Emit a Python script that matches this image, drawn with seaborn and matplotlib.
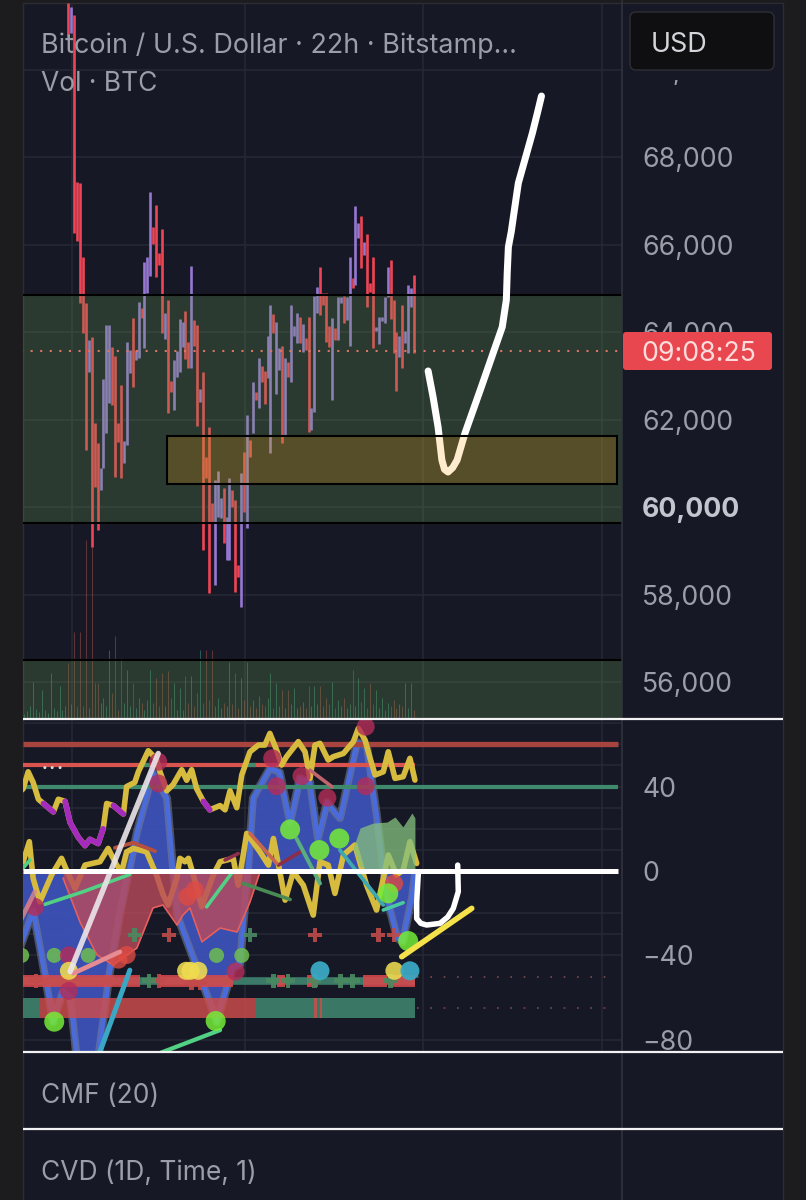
import numpy as np
import matplotlib
matplotlib.use("Agg")
import matplotlib.pyplot as plt
from matplotlib.patches import Rectangle, FancyBboxPatch
import seaborn as sns

# ---- price candles, one per 22h session ----
candle_high = [71520,71430,71246,67429,67406,65715,64663,63818,63886,61920,61463,60892,62926,64160,64160,63658,63452,61920,62789,61509,
               63772,63589,64320,63589,64686,64549,65600,65715,67200,66400,66903,65806,66355,64435,64732,62880,63360,63566,64298,64229,
               64480,63772,65509,64275,64160,62698,63086,61143,61829,60092,60618,60823,60206,60435,59772,60663,60389,60160,58675,60778,
               61258,62103,61532,62858,62629,63406,63223,63109,63909,64617,64412,64229,63635,63680,63406,63315,64617,64138,64435,64343,
               64183,63863,64343,62263,64823,65029,65486,64892,64892,64138,64320,64092,64800,64800,64823,64800,65715,65235,66880,66492,
               66652,66058,66240,65120,65715,64115,64343,64343,64800,65486,65646,64732,64000,63909,64617,64023,65075,65006,65303]
candle_low = [70740,70835,66263,66080,64663,63977,61303,63086,59086,60458,59475,60389,60892,61692,62378,62332,60686,61486,60663,61006,
              61418,63063,62743,63360,63406,64320,63635,64892,65280,66011,65258,65532,63977,63840,62149,62629,62218,62972,63086,63658,
              63383,63178,63178,63680,61852,62400,59018,60663,58035,59658,58218,59772,59749,59178,58789,58789,60000,58058,58400,57715,
              59886,59520,61143,61692,62446,62263,62858,62355,62949,61235,63977,62583,63132,61463,61646,62972,62858,63909,63749,63749,
              63543,63589,61715,61760,62172,64435,64389,64617,63772,63658,62446,63818,63818,64663,64206,64275,63680,65006,65075,66149,
              65463,65760,64572,64915,63635,64023,63726,64252,64206,64800,64298,63520,62652,63429,63178,63749,63520,64572,63520]
rising_bars = [1,7,11,12,13,14,19,20,21,23,24,26,27,28,33,36,37,38,39,42,45,50,51,52,54,55,59,61,63,65,68,69,71,72,74,76,77,78,80,
               83,84,85,90,92,93,95,96,98,99,101,105,106,107,108,109,113,115,116,117]

volume_before = [4,7,12,36,9,6,28,8,5,45,10,7,32,8,12]
volume = [55,14,86,12,86,12,178,10,171,35,35,15,20,12,68,25,82,8,60,15,48,12,35,10,20,15,8,18,48,15,
          40,12,45,12,47,20,35,8,30,8,42,15,42,12,25,68,15,68,18,68,12,20,10,15,12,56,14,45,10,40,
          18,56,12,18,10,22,14,12,20,45,10,35,12,28,10,28,14,30,10,12,16,10,32,12,32,14,32,12,20,14,
          36,10,18,12,20,10,14,48,12,40,16,30,10,35,14,28,10,20,8,15,12,18,10,14,12,35,10,35,8]

price_ticks = [56000,58000,60000,62000,64000,66000,68000,70000]
price_labels = ["56,000","58,000","60,000","62,000","64,000","66,000","68,000","70,000"]
osc_ticks = [40,0,-40,-80]
osc_labels = ["40","0","\u221240","\u221280"]
osc_grid = [70,60,50,40,30,20,10,-20,-30,-40,-80]
session_marks = [1.3,60.3,121,182]

last_price = 63566
support_zone = (59630,64850)
volume_zone_top = 56500
demand_box = (33.7,187.3,60526,61623)

# projected path sketched over the price pane
path_x = [122.8,124.5,126.2,127.5,128.4,129.6,131.2,132.7,135.4,140.6,145,148.1,149.5,149.8,150.2,151.2,151.9,153.6,156,158.4,160.1,161.5]
path_y = [63110,62514,61829,61074,60860,60800,60900,61074,61691,62674,63520,64114,64731,65349,65943,66300,66629,67406,67977,68549,69006,69394]

# ---- oscillator pane ----
upper_x = [-16.5,-15.4,-13.7,-12,-10.2,-8.5,-5.1,-3.4,-1.1,0.6,3.4,5.7,7.4,10.2,11.9,13.1,15.4,18.8,19.9,22.7,23.9,27.3,30.1,31.3,33.6,35.8,
           38.7,40.4,42.1,43.8,46.1,48.3,51.8,53.5,55.2,57.5,59.2,62,64.9,67.1,68.8,71.1,72.8,74.5,78.5,80.8,82.5,84.2,85.9,88.7,90.5,93.9,
           97.3,99,101.3,103,104.7,107.5,109.2,111.5,114.3,116.6,118.3]
upper_y = [37.6,39,47,42,34,32,28,34,33,23,16,12,15,13,20,32,31,27,40,42,47,57,53,47,38,41,48,43,48,39,33,29,31,29,38,30,45.5,56.5,59.7,59.7,
           65.2,57.3,50.2,54.2,61.3,56.5,43.9,59.7,60.5,52.6,54.2,55.7,61.3,67.6,62,53.4,45.5,47,56.5,43.9,44.7,53.4,43.1]
weak_spans = [(-9.1,-5.1),(-1.1,11.9),(14.8,18.8),(46.1,48.3)]

lower_x = [-16.5,-15.4,-13.3,-12,-9.7,-5.7,-2.3,-0.6,2.3,5.7,10.8,13.6,16.5,18.2,19.9,22.2,26.7,30.1,32.4,34.1,37,38.1,39.8,41,42.7,45.5,49.5,51.8,
           56.3,58,60.9,65.4,68.3,70,72.2,74,76.8,80.2,83.6,85.9,88.7,91,93.9,97.8,101.8,105.2,109.2,112,114.3,116.6,118.9]
lower_y = [3.6,4.4,13.9,-3.5,-14.6,-1.9,6,0.4,-8.3,2.8,4.4,10.7,2.8,-0.4,9.1,10.7,9.1,-1.9,-11.4,-16.1,-3.5,6,4.4,6,-1.9,-16.9,-1.9,4.4,
           6,-6.7,17.8,9.1,2.8,15.4,-0.4,-13.8,-0.4,-6.7,-20.9,4.4,2.8,-10.6,7.6,12.3,-6.7,-18.5,7.6,-1.9,0.4,13.9,3.6]

wave_x = [-16.5,-12,-9.7,-5.2,-1.8,0.6,3,10.1,14.2,17.6,23.4,28.9,33.7,37.1,50.7,56.2,58.6,61,63,68.8,72.2,75.7,79,82.5,85.2,88.3,92.7,98.5,
          101.9,105.3,108.7,112.2,114.2,117.3,118.3]
wave_y = [-36.5,-19.4,-36.5,-71.6,-57.3,-60.2,-90,-90,-47.9,-20.9,18.5,46.9,34.6,-20.9,-71.6,-46,-44.5,-5.2,34.6,48.8,46.9,23.2,44,42.2,15.6,
          32.7,25.1,61.1,59.7,26.5,-12.8,-31.8,-33.6,-12.8,-1.9]

bear_x = [-1.8,4,9.8,15.3,23.4,28.9,32.3,37.1,39.1,41.5,45.6,51.8,57.6,62,65.4]
bear_y = [-3.3,-24.2,-39.8,-44.5,-36.5,-17.5,-16.1,-25.6,-20.9,-17.5,-33.6,-27,-28.9,-14.7,-0.5]

bull_x = [97.2,99.6,104,108.8,111.5,114.2,117.3,118.3]
bull_top = [10.9,20.4,22.7,23.2,25.6,20.9,27.5,25.1]
bull_base = [10.9,2,0,0,0,0,0,0]

lime_x = [-15.9,-4.8,6.8,50.6,59.2]
lime_y = [-40,-40,-40,-40,-40]
green_x = [-4.8,50.3,116,75.7,85.7,92.5,109.2]
green_y = [-71.4,-71.1,-33.2,19.7,9.9,15.4,-10.6]
crimson_x = [-11.4,0.2,30.7,30.7,69.6,79.6,71.1,88.4,101.5,101.5,57.1,0.2]
crimson_y = [-17,-56.8,41.5,51.8,53.4,45,40.2,34.7,40.2,68.4,-47.7,-40]
red_x = [111.2,17.1,19.9,40.7,43.2]
red_y = [-5.9,-42,-39.8,-12.2,-9]
amber_x = [0.2,40.2,41.7,44.4,111.3]
amber_y = [-47.3,-47.3,-47.3,-47.3,-47.3]
cyan_x = [85.9,116.6]
cyan_y = [-47.3,-47.3]
plus_red_x = [34.4,84.2,105.8,111.2,-11,31,42,45]
plus_red_y = [-30.4,-30.4,-30.4,-30.4,-52,-52,-53,-53]
plus_green_x = [22.7,62,27.5,70,75,84,93,97,110]
plus_green_y = [-30.4,-30.4,-52,-52,-52,-52,-52,-52,-52]

rsi_ob_line = 60
rsi_mid_line = 50
rsi_os_line = 40
mid_dash_spans = [(24.5,28),(60.5,64)]

band_a = -52
band_a_green = [(-16,118.3)]
band_a_red = [(-16.5,24.5),(31.3,56.3),(71.1,74),(81.4,85.3),(100.7,108.7),(109.8,118.3)]
band_b = -65
band_b_green = [(-15.4,-9.7),(64,118.3)]
band_b_red = [(-9.7,64),(84,84.9),(85.8,86.6)]
dotted_levels = [-50,-65]

white_x, white_y = [0.6,30.7], [-47.7,55.7]
pink_x, pink_y = [1.7,17.6], [-48.5,-38.3]
pink2_x, pink2_y = [-16.5,-11.4], [-24,-9.8]
sky_x, sky_y = [10.2,21], [-88,-47]
mint_x, mint_y = [-8,5.1,21], [-15.8,-9.8,-1.6]
mint2_x, mint2_y = [28,51.8], [-88,-75.4]
mint3_x, mint3_y = [47.2,55.7], [-17,-1.1]
mint4_x, mint4_y = [-16.5,-13.1], [-0.3,5.2]
rust_x, rust_y = [15.9,22.2,29.6], [11,13.4,9.4]
wine_x, wine_y = [53.5,58], [5.2,8.3]
wine2_x, wine2_y = [71.7,79.6], [2.8,9.4]
fern_x, fern_y = [59.7,75.7], [-5.9,-13.5]
coral_x, coral_y = [62,71.1], [17.8,3.6]
rose_x, rose_y = [82.5,90], [47.8,39.9]
sage_x, sage_y = [77.9,85.9], [15.4,-5.9]
teal_x, teal_y = [92.7,107.5], [9.9,-16.1]
mint5_x, mint5_y = [107.5,114.3], [-18.5,-15]
sun_x, sun_y = [113.8,137.7], [-40.6,-17.7]
cup_x = [119.5,118.9,118.9,120.3,122.3,126.9,129.5,131.4,133.1,132.9]
cup_y = [-0.4,-14.6,-22.5,-24.8,-25.6,-24.8,-21.8,-17.7,-9.8,2.8]
three_dots_x, three_dots_y = [-8,-5.5,-2.8], [49,49,49]

# ---- colours and page geometry ----
PAGE, PANE, GRID = "#1c1c1e", "#161925", "#262935"
LABEL = "#9b9da8"
W, H = 806, 1200
L_PX, R_PX = 23, 622

sns.set_theme(style="dark")
plt.rcParams["font.family"] = ["Inter", "DejaVu Sans"]


def frac_box(x0, y0, x1, y1):
    return [x0 / W, 1 - y1 / H, (x1 - x0) / W, (y1 - y0) / H]


def stroke(ax, xs, ys, color, width, alpha=1.0, z=6):
    sns.lineplot(x=xs, y=ys, ax=ax, color=color, lw=width * 0.72, alpha=alpha, sort=False,
                 estimator=None, errorbar=None, zorder=z, legend=False,
                 solid_capstyle="round", solid_joinstyle="round")


def dots(ax, xs, ys, color, diam, alpha=0.9, z=9, marker="o", lw=0):
    sns.scatterplot(x=xs, y=ys, ax=ax, color=color, s=(diam * 0.72) ** 2, alpha=alpha, zorder=z,
                    marker=marker, linewidth=lw, edgecolor=color if lw else "none", legend=False)


def plain(ax, ylim, ticks, labels):
    ax.set_xlim((L_PX - 68.3) / 2.93, (R_PX - 68.3) / 2.93)
    ax.set_ylim(*ylim)
    ax.set_facecolor("none")
    ax.grid(False)
    for s in ax.spines.values():
        s.set_visible(False)
    ax.set_xticks([])
    ax.yaxis.tick_right()
    ax.set_yticks(ticks)
    ax.set_yticklabels(labels)
    ax.tick_params(axis="y", length=0, pad=14.5, labelsize=19.2, labelcolor=LABEL)
    ax.set_xlabel("")
    ax.set_ylabel("")


fig = plt.figure(figsize=(W / 100, H / 100), dpi=100, facecolor=PAGE)

back = fig.add_axes([0, 0, 1, 1], zorder=-5)
back.set_xlim(0, W)
back.set_ylim(H, 0)
back.axis("off")
back.add_patch(Rectangle((L_PX, 3), 783 - L_PX, H, fc=PANE, ec="#2c2d33", lw=1))

# ---- price pane ----
ax = fig.add_axes(frac_box(L_PX, 3, R_PX, 718), zorder=1)
plain(ax, (55178, 71520), price_ticks, price_labels)
for t, lab in zip(price_ticks, ax.get_yticklabels()):
    if t == 60000:
        lab.set_fontweight("bold")
        lab.set_color("#c3c5cf")
ax.hlines(price_ticks, *ax.get_xlim(), color=GRID, lw=1.1, zorder=1)
ax.vlines(session_marks, 55178, 71520, color=GRID, lw=1.1, zorder=1)

idx = np.arange(len(candle_high))
up = np.isin(idx, rising_bars)
ax.vlines(idx[~up], np.array(candle_low)[~up], np.array(candle_high)[~up], color="#ef4455", lw=1.9, zorder=2)
ax.vlines(idx[up], np.array(candle_low)[up], np.array(candle_high)[up], color="#9678d2", lw=1.9, zorder=2)

VOL_SCALE = 22.857
vol_idx = np.arange(-len(volume_before), len(volume))
vol_all = np.array(volume_before + volume)
vol_up = np.isin(vol_idx, rising_bars) | (vol_idx < 0)
ax.vlines(vol_idx[vol_up], 55178, 55178 + vol_all[vol_up] * VOL_SCALE, color="#3f9a7c", lw=0.75, alpha=0.5, zorder=2)
ax.vlines(vol_idx[~vol_up], 55178, 55178 + vol_all[~vol_up] * VOL_SCALE, color="#c25a50", lw=0.75, alpha=0.42, zorder=2)

ax.axhspan(support_zone[0], support_zone[1], fc=(106 / 255, 157 / 255, 81 / 255, 0.25), ec="none", zorder=3)
ax.axhspan(55178, volume_zone_top, fc=(106 / 255, 157 / 255, 81 / 255, 0.25), ec="none", zorder=3)
ax.hlines([support_zone[1], support_zone[0], volume_zone_top], *ax.get_xlim(), color="black", lw=1.5, zorder=4)

ax.hlines(last_price, -16, 188, color="#dc7462", lw=1.5, linestyles=(0, (1, 3.6)), zorder=4)

stroke(ax, path_x, path_y, "white", 7, z=5)
ax.add_patch(Rectangle((demand_box[0], demand_box[2]), demand_box[1] - demand_box[0], demand_box[3] - demand_box[2],
                       fc=(1, 163 / 255, 13 / 255, 0.2), ec="black", lw=1.5, zorder=6))

# ---- oscillator pane ----
ox = fig.add_axes(frac_box(L_PX, 720, R_PX, 1051), zorder=2)
plain(ox, (-85.3, 71.56), osc_ticks, osc_labels)
x0, x1 = ox.get_xlim()
ox.hlines(osc_grid, x0, x1, color=GRID, lw=1.1, zorder=1)
ox.vlines(session_marks, -85.3, 71.56, color=GRID, lw=1.1, zorder=1)

ox.fill_between(wave_x, wave_y, 0, color="#3d53bb", alpha=0.92, lw=0, zorder=2)
stroke(ox, wave_x, wave_y, "#7a8196", 8, 0.55, z=2.2)
stroke(ox, wave_x, wave_y, "#4a6bdc", 4.5, 1.0, z=2.4)

for a, b in band_a_green:
    ox.hlines(band_a, a, b, color="#3b7a68", lw=5.5, zorder=3)
for a, b in band_a_red:
    ox.hlines(band_a, a, b, color="#d8484c", lw=8.6, alpha=0.88, zorder=3.1)
for a, b in band_b_red:
    ox.hlines(band_b, a, b, color="#cf4d4b", lw=14.4, alpha=0.82, zorder=3.2)
for a, b in band_b_green:
    ox.hlines(band_b, a, b, color="#3b7765", lw=14.4, zorder=3.1)
ox.hlines(dotted_levels, 119, 187, color="#7a4a4c", lw=1.2, linestyles=(0, (1, 7)), zorder=3)

ox.hlines(rsi_ob_line, x0, 187.5, color="#a8443f", lw=3.8, zorder=4)
ox.hlines(rsi_mid_line, x0, 118.3, color="#d9534f", lw=3.0, zorder=4)
ox.hlines(rsi_os_line, x0, 187.5, color="#3f8a6c", lw=3.0, zorder=4)
for a, b in mid_dash_spans:
    ox.hlines(rsi_mid_line, a, b, color="#3f8a6c", lw=3.0, zorder=4.1)

stroke(ox, lower_x, lower_y, "#d6bb3e", 5.6, z=4.5)
ox.fill_between(bear_x, bear_y, 0, color="#bb4a5c", alpha=0.8, lw=0, zorder=5)
stroke(ox, bear_x, bear_y, "#e8605c", 1.6, z=5.1)
ox.fill_between(bull_x, bull_base, bull_top, color="#86c07e", alpha=0.76, lw=0, zorder=5)

stroke(ox, upper_x, upper_y, "#d6bb3e", 5.6, z=5.5)
ux, uy = np.array(upper_x), np.array(upper_y)
for a, b in weak_spans:
    keep = (ux >= a) & (ux <= b)
    stroke(ox, ux[keep].tolist(), uy[keep].tolist(), "#a42bbd", 5.6, z=5.6)

stroke(ox, mint_x, mint_y, "#52d084", 3.6, z=6)
stroke(ox, mint2_x, mint2_y, "#52d084", 4.2, z=6)
stroke(ox, mint3_x, mint3_y, "#52d084", 3.6, z=6)
stroke(ox, mint4_x, mint4_y, "#52d084", 3.6, z=6)
stroke(ox, fern_x, fern_y, "#4a8a55", 3.6, z=6)
stroke(ox, wine_x, wine_y, "#8c2d4a", 3.6, z=6)
stroke(ox, wine2_x, wine2_y, "#8c2d4a", 3.6, z=6)
stroke(ox, rust_x, rust_y, "#b5503f", 3.8, z=6)
stroke(ox, coral_x, coral_y, "#c8664f", 3.6, z=6)
stroke(ox, rose_x, rose_y, "#c0646e", 3.6, z=6)
stroke(ox, sage_x, sage_y, "#59ad80", 4, z=6)
stroke(ox, teal_x, teal_y, "#3da8b0", 3.8, z=6)
stroke(ox, mint5_x, mint5_y, "#48c9a0", 3.6, z=6)
stroke(ox, sky_x, sky_y, "#3aa8c4", 5, z=6)

dots(ox, lime_x, lime_y, "#6fbe50", 15, 0.85)
dots(ox, crimson_x, crimson_y, "#b42c58", 18, 0.8)
dots(ox, red_x, red_y, "#dd4b44", 18, 0.8)
dots(ox, green_x, green_y, "#74ec38", 20, 0.85)
dots(ox, amber_x, amber_y, "#efdc50", 18, 0.88)
dots(ox, cyan_x, cyan_y, "#3aa8c4", 19, 0.95)
dots(ox, plus_red_x, plus_red_y, "#c24a4a", 14, 0.9, z=5.7, marker="P")
dots(ox, plus_green_x, plus_green_y, "#4a8a60", 14, 0.9, z=5.7, marker="P")
dots(ox, three_dots_x, three_dots_y, "#d8d8dc", 3, 1, z=8)

stroke(ox, pink_x, pink_y, "#e58c92", 4.6, z=9.5)
stroke(ox, pink2_x, pink2_y, "#d98a90", 4.6, 0.8, z=9.5)
stroke(ox, white_x, white_y, "#ebe6ea", 5.4, 0.9, z=10)

ox.hlines(0, x0, 187.5, color="white", lw=3.6, zorder=11)
stroke(ox, sun_x, sun_y, "#f5e14a", 5.6, z=11)
stroke(ox, cup_x, cup_y, "white", 5.5, z=12)

# ---- pane chrome, captions and the price badges ----
top = fig.add_axes([0, 0, 1, 1], zorder=10)
top.set_xlim(0, W)
top.set_ylim(H, 0)
top.axis("off")
top.patch.set_alpha(0)
top.add_patch(Rectangle((R_PX + 1, 4), 159, 75.5, fc=PANE, ec="none", zorder=1))
top.vlines(R_PX, 0, H, color="#30323d", lw=1.2, zorder=1.5)
top.hlines([719, 1051.5, 1128.5], L_PX, 783, color="#f2f2f4", lw=1.6, zorder=2)

top.add_patch(FancyBboxPatch((636, 18), 132, 46, boxstyle="round,pad=6,rounding_size=6",
                             fc="#0f0f11", ec="#2e2f35", lw=1, zorder=3))
top.text(651, 44.5, "USD", color="#d4d5da", fontsize=19.4, va="center", ha="left", zorder=4)

top.add_patch(FancyBboxPatch((623, 332), 149, 38, boxstyle="round,pad=0,rounding_size=3",
                             fc="#e8474f", ec="none", zorder=3))
top.text(699, 354, "09:08:25", color="#ffdcdc", fontsize=19.2, va="center", ha="center", zorder=4)

top.text(41, 46, "Bitcoin / U.S. Dollar \u00b7 22h \u00b7 Bitstamp...", color=LABEL, fontsize=19.4, va="center", ha="left", zorder=4)
top.text(41, 84, "Vol \u00b7 BTC", color=LABEL, fontsize=19, va="center", ha="left", zorder=4)
top.text(41, 1096, "CMF (20)", color=LABEL, fontsize=19, va="center", ha="left", zorder=4)
top.text(41, 1173, "CVD (1D, Time, 1)", color=LABEL, fontsize=19, va="center", ha="left", zorder=4)

fig.savefig("out.png", dpi=100, facecolor=PAGE)
